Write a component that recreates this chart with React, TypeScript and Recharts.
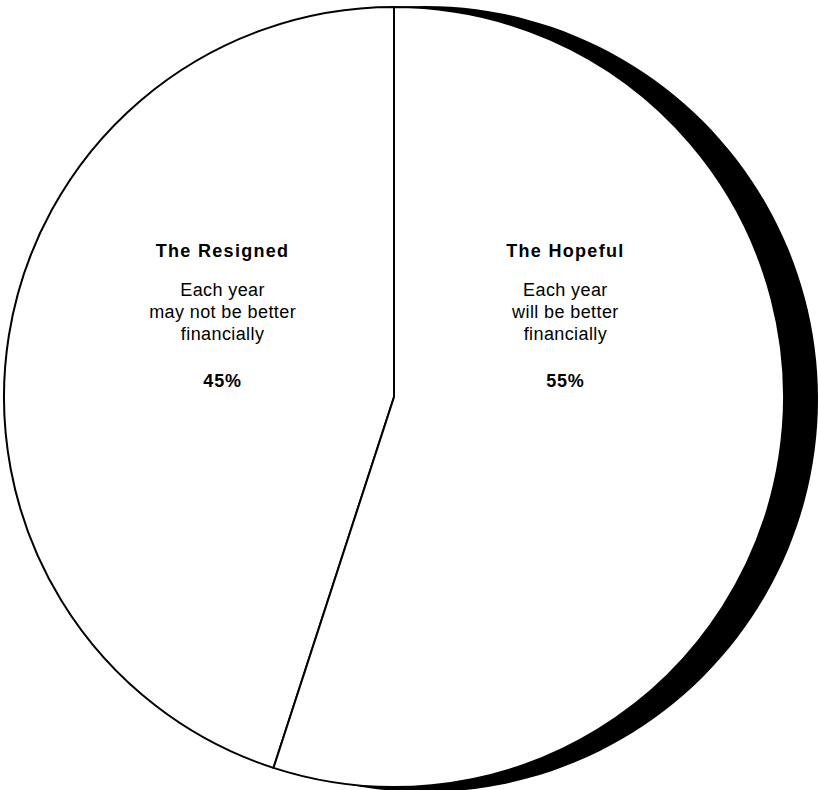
import React from 'react';
import { PieChart, Pie, Cell } from 'recharts';

// chart values
const GROUPS = ['The Resigned', 'The Hopeful'];
const SHARES = [45, 55];
const DESCRIPTIONS = [
  ['Each year', 'may not be better', 'financially'],
  ['Each year', 'will be better', 'financially'],
];

const data = GROUPS.map((name, i) => ({ name, value: SHARES[i], lines: DESCRIPTIONS[i] }));
const shadowData = [{ name: 'shadow', value: 1 }];

const RADIAN = Math.PI / 180;
const FONT = '"Liberation Sans", Arial, Helvetica, sans-serif';

const renderLabel = (props: any) => {
  const { cx, cy, midAngle, outerRadius, payload, value } = props;
  const x = cx + outerRadius * 0.445 * Math.cos(-midAngle * RADIAN);
  const lines: string[] = payload.lines;
  return (
    <g fontFamily={FONT} fill="#000" textAnchor="middle">
      <text x={x} y={cy - 140} fontSize={18} fontWeight="bold" letterSpacing={1.3}>{payload.name}</text>
      {lines.map((l, i) => (
        <text key={i} x={x} y={cy - 101 + i * 22} fontSize={18} letterSpacing={0.4}>{l}</text>
      ))}
      <text x={x} y={cy - 10} fontSize={18} fontWeight="bold" letterSpacing={0.8}>{`${value}%`}</text>
    </g>
  );
};

const App = () => {
  return (
    <div style={{ width: 818, height: 790, background: '#fff' }}>
      <style>{'body{margin:0;background:#fff}'}</style>
      <PieChart width={818} height={790} margin={{ top: 0, right: 0, bottom: 0, left: 0 }}>
        {/* black shadow behind the disc */}
        <Pie
          data={shadowData}
          dataKey="value"
          cx={425}
          cy={399}
          outerRadius={393}
          startAngle={90}
          endAngle={450}
          stroke="none"
          fill="#000"
          isAnimationActive={false}
        />
        <Pie
          data={data}
          dataKey="value"
          cx={394}
          cy={397}
          outerRadius={390}
          startAngle={90}
          endAngle={450}
          stroke="#000"
          strokeWidth={2}
          label={renderLabel}
          labelLine={false}
          isAnimationActive={false}
        >
          {data.map((d, i) => (
            <Cell key={i} fill="#fff" />
          ))}
        </Pie>
      </PieChart>
    </div>
  );
};

export default App;
